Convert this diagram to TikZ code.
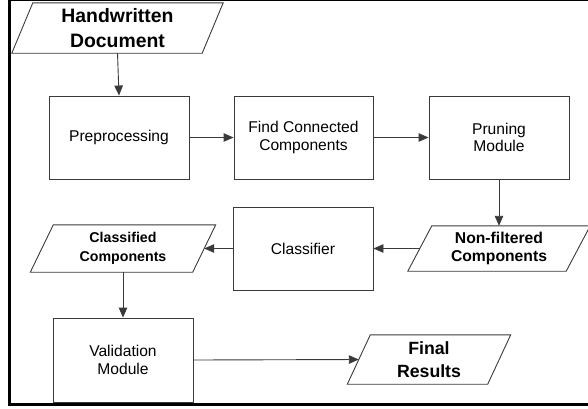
\documentclass[tikz,border=0pt]{standalone}
\usepackage{fontspec}
\setmainfont{Liberation Sans}
\usetikzlibrary{arrows.meta,calc}
\definecolor{edge}{HTML}{3A3A3A}
\tikzset{
  box/.style={draw=edge, line width=0.9pt, rectangle, align=center, inner sep=0pt,
    font=\fontsize{15.6}{17.5}\selectfont},
  io/.style={rectangle, align=center, inner sep=0pt},
  conn/.style={draw=edge, line width=0.9pt, -{Triangle[length=10pt,width=8.5pt]}},
  plain/.style={draw=edge, line width=0.9pt},
}
\newcommand{\paragram}[2]{%
  \draw[plain] ($(#1.south west)+(-#2,0)$) -- ($(#1.north west)+(#2,0)$) --
    ($(#1.north east)+(#2,0)$) -- ($(#1.south east)+(-#2,0)$) -- cycle;}
\begin{document}
\begin{tikzpicture}[x=1pt,y=-1pt]
\useasboundingbox (0,0) rectangle (588,408);
\clip (0,0) rectangle (588,408);
\draw[line width=2.7pt, black] (9.7,0) rectangle (620,404.7);

\node[io, minimum width=190, minimum height=50,
  font=\bfseries\fontsize{19.4}{25}\selectfont] (hd) at (117.5,28) {Handwritten\\Document};
\paragram{hd}{10.5}

\node[box, minimum width=140, minimum height=83] (pre) at (119,137.5) {Preprocessing};
\node[box, minimum width=139, minimum height=83] (find) at (303.5,137.5) {Find Connected\\Components};
\node[box, minimum width=140, minimum height=83] (prune) at (499,137.5) {Pruning\\Module};

\node[io, minimum width=158, minimum height=45,
  font=\bfseries\fontsize{15.7}{18}\selectfont] (nf) at (499,248.5) {Non-filtered\\Components};
\paragram{nf}{12}

\node[box, minimum width=140, minimum height=83] (cls) at (303,248.5) {Classifier};

\node[io, minimum width=162, minimum height=47,
  font=\bfseries\fontsize{14.2}{19}\selectfont] (cc) at (123,248.5) {Classified\\Components};
\paragram{cc}{11.5}

\node[box, minimum width=140, minimum height=84] (val) at (123,360) {Validation\\Module};

\node[io, minimum width=140, minimum height=49,
  font=\bfseries\fontsize{17.7}{23}\selectfont] (fr) at (429,359.5) {Final\\Results};
\paragram{fr}{11.5}

\draw[conn] (hd.south) -- (pre.north);
\draw[conn] (pre.east) -- (find.west);
\draw[conn] (find.east) -- (prune.west);
\draw[conn] (prune.south) -- (nf.north);
\draw[conn] (nf.west) -- (cls.east);
\draw[conn] (cls.west) -- (cc.east);
\draw[conn] (cc.south) -- (val.north);
\draw[conn] (val.east) -- (fr.west);
\end{tikzpicture}
\end{document}
